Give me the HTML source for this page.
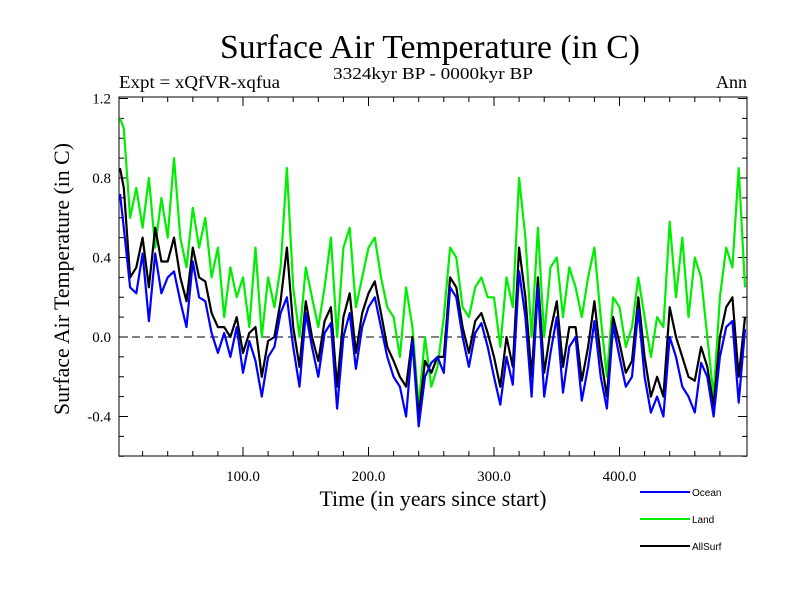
<!DOCTYPE html>
<html><head><meta charset="utf-8"><style>
body{margin:0;background:#fff}
svg{display:block}
text{font-family:"Liberation Serif",serif;fill:#000}
</style></head><body>
<svg id="chart" width="800" height="600">
<text x="430" y="58" font-size="34" text-anchor="middle" textLength="420" lengthAdjust="spacingAndGlyphs">Surface Air Temperature (in C)</text>
<text x="433" y="79" font-size="17" text-anchor="middle" textLength="200" lengthAdjust="spacingAndGlyphs">3324kyr BP - 0000kyr BP</text>
<text x="119" y="88" font-size="18" textLength="161" lengthAdjust="spacingAndGlyphs">Expt = xQfVR-xqfua</text>
<text x="747" y="88" font-size="18" text-anchor="end">Ann</text>
<text x="433" y="506" font-size="22" text-anchor="middle" textLength="227" lengthAdjust="spacingAndGlyphs">Time (in years since start)</text>
<text transform="translate(69,279) rotate(-90)" font-size="22" text-anchor="middle" textLength="272" lengthAdjust="spacingAndGlyphs">Surface Air Temperature (in C)</text>
<g id="axes"></g>
<g id="series"></g>
<g id="legend">
<line x1="640" y1="492" x2="690" y2="492" stroke="#0000ff" stroke-width="2"/>
<text x="692" y="496" font-size="10" style="font-family:'Liberation Sans',sans-serif">Ocean</text>
<line x1="640" y1="519" x2="690" y2="519" stroke="#00ee00" stroke-width="2"/>
<text x="692" y="523" font-size="10" style="font-family:'Liberation Sans',sans-serif">Land</text>
<line x1="640" y1="546" x2="690" y2="546" stroke="#000" stroke-width="2"/>
<text x="692" y="550" font-size="10" style="font-family:'Liberation Sans',sans-serif">AllSurf</text>
</g>
</svg>
<script>
const years=[];for(let i=0;i<=100;i++)years.push(i*5);
const ocean=[0.72,0.55,0.25,0.22,0.42,0.08,0.42,0.22,0.3,0.33,0.18,0.05,0.38,0.2,0.18,0.02,-0.08,0.02,-0.1,0.05,-0.18,-0.02,-0.12,-0.3,-0.1,-0.05,0.12,0.2,-0.05,-0.25,0.12,-0.05,-0.2,0.02,0.07,-0.36,0.0,0.12,-0.16,0.05,0.15,0.2,0.05,-0.1,-0.2,-0.25,-0.4,-0.02,-0.45,-0.2,-0.13,-0.1,-0.18,0.25,0.2,0.0,-0.15,0.02,0.07,-0.05,-0.2,-0.34,-0.1,-0.24,0.33,0.1,-0.3,0.25,-0.3,-0.08,0.1,-0.28,-0.05,0.0,-0.32,-0.15,0.08,-0.2,-0.36,0.06,-0.1,-0.25,-0.2,0.14,-0.2,-0.38,-0.3,-0.4,0.0,-0.1,-0.25,-0.3,-0.38,-0.13,-0.2,-0.4,-0.1,0.05,0.08,-0.33,0.04];
const land=[1.1,1.05,0.6,0.75,0.55,0.8,0.45,0.7,0.5,0.9,0.5,0.35,0.65,0.45,0.6,0.3,0.45,0.1,0.35,0.2,0.3,0.05,0.45,0.0,0.3,0.15,0.35,0.85,0.25,0.0,0.35,0.2,0.05,0.25,0.5,0.0,0.45,0.55,0.15,0.3,0.45,0.5,0.3,0.15,0.1,-0.1,0.25,0.05,-0.35,0.0,-0.25,-0.15,0.1,0.45,0.4,0.15,0.1,0.25,0.3,0.2,0.2,-0.05,0.3,0.15,0.8,0.5,0.0,0.55,0.0,0.35,0.4,0.1,0.35,0.25,0.1,0.3,0.45,0.1,-0.2,0.2,0.15,-0.05,0.05,0.3,0.1,-0.1,0.1,0.05,0.58,0.2,0.5,0.1,0.4,0.3,0.0,-0.3,0.2,0.45,0.35,0.85,0.25];
const allsurf=[0.85,0.75,0.3,0.35,0.5,0.25,0.55,0.38,0.38,0.5,0.3,0.18,0.45,0.3,0.28,0.12,0.05,0.05,0.0,0.1,-0.08,0.02,0.05,-0.2,-0.02,0.0,0.18,0.45,0.05,-0.15,0.18,0.0,-0.12,0.08,0.15,-0.25,0.1,0.22,-0.08,0.12,0.22,0.28,0.12,-0.05,-0.12,-0.2,-0.25,0.0,-0.4,-0.12,-0.18,-0.1,-0.1,0.3,0.25,0.05,-0.08,0.08,0.12,0.02,-0.1,-0.25,0.0,-0.15,0.45,0.2,-0.2,0.3,-0.18,0.03,0.18,-0.15,0.05,0.05,-0.22,-0.05,0.18,-0.1,-0.3,0.1,-0.03,-0.18,-0.12,0.2,-0.1,-0.3,-0.2,-0.3,0.15,0.0,-0.1,-0.2,-0.22,-0.05,-0.15,-0.35,0.0,0.15,0.2,-0.2,0.1];
const yTicks=[-0.4,0.0,0.4,0.8,1.2];
const yTickLabels=["-0.4","0.0","0.4","0.8","1.2"];
const xTicks=[100,200,300,400];
const xTickLabels=["100.0","200.0","300.0","400.0"];

const L=119,R=747,T=97,B=456;
const X0=117.5,XS=1.255;
function xs(v){return X0+v*XS;}
function ys(v){return 337-v*198.75;}
const NS='http://www.w3.org/2000/svg';
const ax=document.getElementById('axes');
function mk(tag,attrs,parent){const e=document.createElementNS(NS,tag);for(const k in attrs)e.setAttribute(k,attrs[k]);parent.appendChild(e);return e;}
const frame=mk('rect',{x:L,y:T,width:R-L,height:B-T,fill:'none',stroke:'#000','stroke-width':1},ax);


const zl=mk('line',{x1:L,x2:R,y1:ys(0),y2:ys(0),stroke:'#000','stroke-dasharray':'8,5','stroke-width':1},ax);


for(let k=-6;k<=12;k++){const v=k/10;const y=ys(v);const major=k%4===0;
 mk('line',{x1:L,x2:L+(major?9:5),y1:y,y2:y,stroke:'#000'},ax);
 mk('line',{x1:R,x2:R-(major?9:5),y1:y,y2:y,stroke:'#000'},ax);}
for(let v=20;v<500;v+=20){const x=xs(v);const major=v%100===0;
 mk('line',{x1:x,x2:x,y1:B,y2:B-(major?9:5),stroke:'#000'},ax);
 mk('line',{x1:x,x2:x,y1:T,y2:T+(major?9:5),stroke:'#000'},ax);}
yTicks.forEach((v,i)=>{const t=mk('text',{x:111,y:ys(v)+5,'font-size':15,'text-anchor':'end'},ax);t.textContent=yTickLabels[i];
 
 });
xTicks.forEach((v,i)=>{const t=mk('text',{x:xs(v),y:481,'font-size':15,'text-anchor':'middle'},ax);t.textContent=xTickLabels[i];
 
 });
const sg=document.getElementById('series');
function draw(arr,color,name){const d=arr.map((v,i)=>(i?'L':'M')+xs(Math.max(years[i],2)).toFixed(1)+','+ys(v).toFixed(1)).join('');
 const p=mk('path',{d:d,fill:'none',stroke:color,'stroke-width':2.2,'stroke-linejoin':'round'},sg);
 
 }
draw(land,'#00ee00','land-line');
draw(allsurf,'#000000','allsurf-line');
draw(ocean,'#0000ff','ocean-line');
</script>
</body></html>
